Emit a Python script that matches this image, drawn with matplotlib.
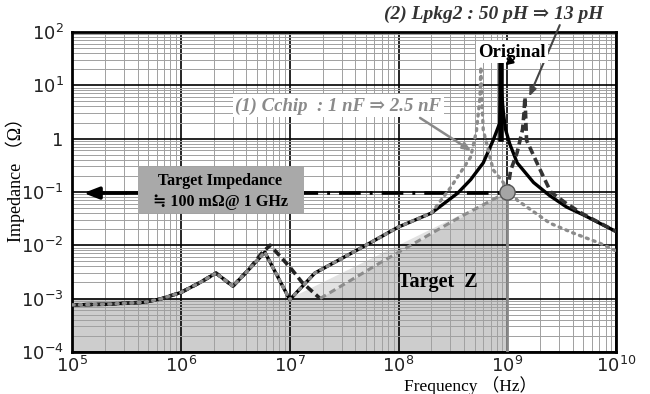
import matplotlib
matplotlib.use("Agg")
import matplotlib.pyplot as plt
from matplotlib.ticker import LogLocator, FixedLocator

plt.rcParams["mathtext.fontset"] = "custom"
plt.rcParams["mathtext.rm"] = "Liberation Sans"
plt.rcParams["mathtext.default"] = "regular"

serif = ["Liberation Serif", "DejaVu Serif", "DejaVu Sans", "Noto Sans CJK JP"]

# Original curve
orig_f = [1e5, 2e5, 4.5e5, 6.5e5, 1e6, 1.5e6, 2.1e6, 3e6, 4.2e6, 5.9e6, 1e7,
          1.7e7, 4.7e7, 1e8, 2e8, 3.5e8, 4.6e8, 6e8, 7.4e8, 8.5e8, 8.7e8,
          8.75e8, 8.8e8, 9.2e8, 9.6e8, 1.05e9, 1.23e9, 1.74e9, 2.45e9, 3.5e9,
          5e9, 7e9, 1e10]
orig_z = [7.6e-4, 7.8e-4, 8.5e-4, 9.8e-4, 1.3e-3, 2.0e-3, 3.0e-3, 1.7e-3, 3.5e-3,
          7.4e-3, 9.5e-4, 3.0e-3, 9.3e-3, 2.2e-2, 4.0e-2, 9.5e-2, 0.17, 0.35, 0.93,
          1.95, 8.0, 25.0, 8.0, 3.0, 1.5, 0.8, 0.35, 0.15, 0.085, 0.052, 0.037,
          0.026, 0.018]

# (1) Cchip 1 nF -> 2.5 nF
cchip_f = [1e5, 2e5, 4.5e5, 6.5e5, 1e6, 1.5e6, 2.1e6, 3e6, 4.2e6, 5.9e6, 1e7,
           1.7e7, 4.7e7, 1e8, 2e8, 3e8, 4.6e8, 5.2e8, 5.6e8, 5.7e8, 5.8e8, 6e8,
           7.4e8, 1.23e9, 2.45e9, 4e9, 7e9, 1e10]
cchip_z = [7.6e-4, 7.8e-4, 8.5e-4, 9.8e-4, 1.3e-3, 2.0e-3, 3.0e-3, 1.7e-3, 3.5e-3,
           7.4e-3, 9.5e-4, 3.0e-3, 9.3e-3, 2.2e-2, 4.0e-2, 0.12, 0.45, 1.4, 6.0,
           22.0, 6.0, 1.45, 0.26, 0.07, 0.026, 0.017, 0.011, 0.0078]

# (2) Lpkg2 50 pH -> 13 pH, low part / mid part / resonance part
lpkg_lo_f = [1e5, 2e5, 4.5e5, 6.5e5, 1e6, 1.5e6, 2.1e6, 3e6, 4.2e6, 5.5e6, 6.6e6,
             1e7, 1.3e7, 1.9e7]
lpkg_lo_z = [7.6e-4, 7.8e-4, 8.5e-4, 9.8e-4, 1.3e-3, 2.0e-3, 3.0e-3, 1.7e-3, 3.5e-3,
             7.0e-3, 1.0e-2, 3.9e-3, 2.0e-3, 1.0e-3]
lpkg_mid_f = [1.9e7, 6.8e7, 3.7e8, 1e9]
lpkg_mid_z = [1.0e-3, 4.7e-3, 3.4e-2, 0.1]
lpkg_hi_f = [1e9, 1.07e9, 1.23e9, 1.38e9, 1.42e9, 1.45e9, 1.5e9, 2e9, 2.5e9,
             3.5e9, 5e9, 1e10]
lpkg_hi_z = [0.1, 0.25, 0.55, 1.5, 3.0, 6.0, 0.93, 0.26, 0.1, 0.06, 0.038, 0.018]

# Target Z region boundaries
target_f = [1e5, 1e7, 1e9, 1e9]
target_z = [1e-3, 1e-3, 0.1, 1e-4]
target_inner_f = [1e5, 1.9e7, 1e9, 1e9]
target_inner_z = [1e-3, 1e-3, 0.1, 1e-4]

target_imp = 0.095
target_freq = 1e9

xticks = [1e5, 1e6, 1e7, 1e8, 1e9, 1e10]
xlabels = ["$10^{5}$", "$10^{6}$", "$10^{7}$", "$10^{8}$", "$10^{9}$", "$10^{10}$"]
yticks = [1e-4, 1e-3, 1e-2, 1e-1, 1, 1e1, 1e2]
ylabels = ["$10^{-4}$", "$10^{-3}$", "$10^{-2}$", "$10^{-1}$", "1", "$10^{1}$", "$10^{2}$"]

fig = plt.figure(figsize=(6.5, 3.94), dpi=100)
ax = fig.add_axes([0.111, 0.107, 0.837, 0.812])
ax.set_xscale("log")
ax.set_yscale("log")
ax.set_xlim(1e5, 1e10)
ax.set_ylim(1e-4, 1e2)

# shaded target region
ax.fill(target_f + [1e5], target_z + [1e-4], color="#e2e2e2", lw=0, zorder=0.5)
ax.fill(target_inner_f + [1e5], target_inner_z + [1e-4], color="#cdcdcd", lw=0, zorder=0.6)

# grid
ax.xaxis.set_major_locator(FixedLocator(xticks))
ax.yaxis.set_major_locator(FixedLocator(yticks))
ax.xaxis.set_minor_locator(LogLocator(base=10, subs=range(2, 10), numticks=20))
ax.yaxis.set_minor_locator(LogLocator(base=10, subs=range(2, 10), numticks=20))
ax.grid(which="major", color="black", lw=1.2)
ax.grid(which="minor", color="#a0a0a0", lw=0.7)
ax.set_xticklabels(xlabels, fontsize=13, color="#222222")
ax.set_yticklabels(ylabels, fontsize=13, color="#222222")
ax.xaxis.set_minor_formatter(plt.NullFormatter())
ax.yaxis.set_minor_formatter(plt.NullFormatter())
ax.tick_params(which="both", length=0)
ax.tick_params(axis="x", pad=3)
ax.tick_params(axis="y", pad=6)
for s in ax.spines.values():
    s.set_linewidth(2)

# curves
ax.plot(orig_f, orig_z, color="black", lw=2.4, zorder=3)
ax.plot([8.75e8, 8.75e8], [1.0, 25.0], color="black", lw=4, zorder=3)
ax.plot(lpkg_lo_f, lpkg_lo_z, color="#222222", lw=2.6, ls=(0, (2.2, 1.2)), zorder=4)
ax.plot(lpkg_mid_f, lpkg_mid_z, color="#8c8c8c", lw=2.2, ls=(0, (2.2, 1.4)), zorder=4)
ax.plot(lpkg_hi_f, lpkg_hi_z, color="#333333", lw=2.6, ls=(0, (2.2, 1.2)), zorder=4)
ax.plot(cchip_f, cchip_z, color="#8c8c8c", lw=2.4, ls=(0, (0.6, 1.6)),
        dash_capstyle="round", zorder=5)

# target impedance line, marker and drop line
ax.plot([3.1e5, 9.3e8], [target_imp, target_imp], color="black", lw=2.6,
        ls=(0, (6, 2.5, 0.8, 2.5)), zorder=4)
ax.annotate("", xy=(1.2e5, target_imp), xytext=(3.3e5, target_imp),
            arrowprops=dict(arrowstyle="-|>,head_length=0.9,head_width=0.35",
                            color="black", lw=2.6), zorder=6)
ax.plot([target_freq, target_freq], [1e-4, 0.1], color="#888888", lw=2, zorder=4)
ax.plot([target_freq], [0.1], "o", ms=11, mfc="#a5a5a5", mec="#555555", mew=1, zorder=7)

# target impedance box
ax.fill([4e5, 1.35e7, 1.35e7, 4e5], [0.04, 0.04, 0.295, 0.295], color="#a9a9a9",
        lw=0, zorder=6)
ax.text(2.3e6, 0.158, "Target Impedance", ha="center", va="center", fontsize=11.5,
        fontweight="bold", family=serif, zorder=7)
ax.text(2.3e6, 0.066, "\u2252 100 m\u03a9@ 1 GHz", ha="center", va="center",
        fontsize=11.5, fontweight="bold", family=serif, zorder=7)

ax.text(2.3e8, 2e-3, "Target  Z", ha="center", va="center", fontsize=14.5,
        fontweight="bold", family=serif, zorder=6)

# annotations
ax.text(7.4e7, 215, "(2) Lpkg2 : 50 pH \u21d2 13 pH", ha="left", va="center",
        fontsize=14, fontweight="bold", style="italic", family=serif,
        color="#333333", clip_on=False, zorder=8)
ax.annotate("", xy=(1.55e9, 5.5), xytext=(3.1e9, 150),
            arrowprops=dict(arrowstyle="-|>,head_length=0.5,head_width=0.2",
                            color="#444444", lw=1.5), annotation_clip=False, zorder=8)
ax.text(1.1e9, 42, "Original", ha="center", va="center", fontsize=13.5,
        fontweight="bold", family=serif, zorder=8,
        bbox=dict(facecolor="white", edgecolor="none", pad=1.5))
ax.annotate("", xy=(9.1e8, 22), xytext=(1.15e9, 32),
            arrowprops=dict(arrowstyle="-|>,head_length=0.4,head_width=0.2",
                            color="black", lw=1.8), zorder=8)
ax.text(2.8e7, 4.1, "(1) Cchip  : 1 nF \u21d2 2.5 nF", ha="center", va="center",
        fontsize=13.5, fontweight="bold", style="italic", family=serif,
        color="#8a8a8a", zorder=8,
        bbox=dict(facecolor="white", edgecolor="none", pad=2))
ax.annotate("", xy=(4.9e8, 0.55), xytext=(1.5e8, 2.6),
            arrowprops=dict(arrowstyle="-|>,head_length=0.5,head_width=0.2",
                            color="#8a8a8a", lw=1.8), zorder=8)

fig.text(15 / 650, 1 - 176 / 394, "Impedance \uff08\u03a9\uff09", rotation=90,
         ha="center", va="center", fontsize=13, family=serif)
fig.text(470 / 650, 1 - 386 / 394, "Frequency \uff08Hz\uff09", ha="center",
         va="center", fontsize=12.5, family=serif)

fig.savefig("out.png", dpi=100, facecolor="white")
